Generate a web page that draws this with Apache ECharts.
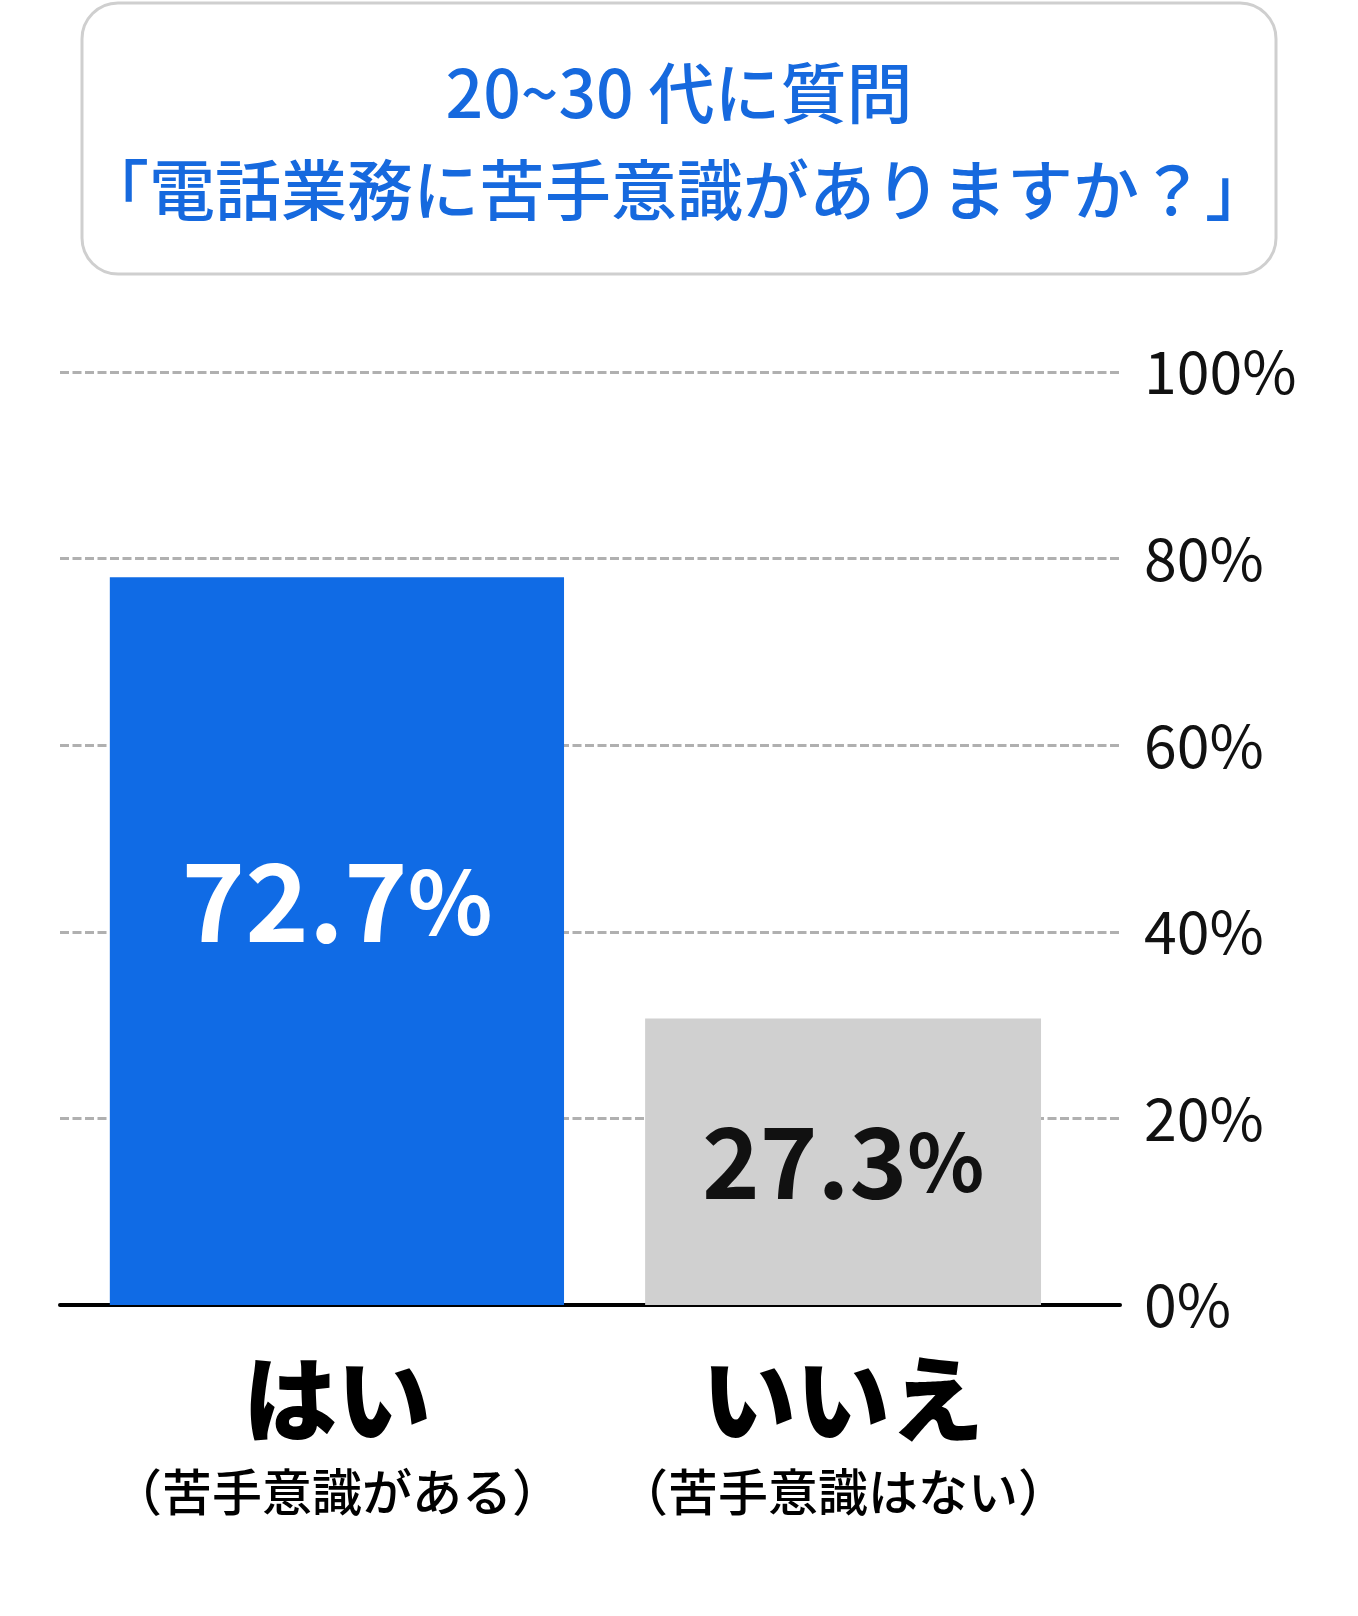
<!DOCTYPE html>
<html>
<head>
<meta charset="utf-8">
<script src="https://cdn.jsdelivr.net/npm/echarts@6/dist/echarts.min.js"></script>
<style>
    html, body { margin: 0; padding: 0; background: #fff; }
    #chart { width: 1358px; height: 1616px; }
</style>
</head>
<body>
<div id="chart"></div>
<script>
    // data
    var categories = ['はい', 'いいえ'];
    var subLabels = ['（苦手意識がある）', '（苦手意識はない）'];
    var barHeights = [78.0, 30.7];          // drawn heights of the bars
    var valueLabels = ['72.7%', '27.3%'];   // printed on the bars
    var yTicks = [0, 20, 40, 60, 80, 100];
    var titleLines = ['20~30 代に質問', '「電話業務に苦手意識がありますか？」'];

    // styles
    var FONT = '"Noto Sans CJK JP", "Noto Sans", sans-serif';
    var barColors = ['#106be5', '#d0d0d0'];
    var labelColors = ['#ffffff', '#111111'];
    var barEdges = [[0.094, 0.951], [0.104, 0.851]];  // bar left/right as part of the band
    var labelPos = [0.555, 0.5];                       // label height inside the bar
    var numSize = [108, 98];
    var pctSize = [88, 80];

    var chart = echarts.init(document.getElementById('chart'));

    function renderItem(params, api) {
        var i = api.value(0);
        var base = api.coord([i, 0]);
        var top = api.coord([i, api.value(1)]);
        var band = api.size([1, 0])[0];
        var x0 = base[0] - band / 2 + band * barEdges[i][0];
        var x1 = base[0] - band / 2 + band * barEdges[i][1];
        var cx = (x0 + x1) / 2;
        var ly = base[1] - (base[1] - top[1]) * labelPos[i];
        var txt = valueLabels[i];
        return {
            type: 'group',
            children: [
                {
                    type: 'rect',
                    shape: { x: x0, y: top[1], width: x1 - x0, height: base[1] - top[1] },
                    style: { fill: barColors[i] }
                },
                {
                    type: 'text',
                    style: {
                        text: '{n|' + txt.slice(0, -1) + '}{p|%}',
                        x: cx, y: ly,
                        align: 'center', verticalAlign: 'middle',
                        rich: {
                            n: { fontSize: numSize[i], fontWeight: 'bold', fontFamily: FONT, fill: labelColors[i], color: labelColors[i] },
                            p: { fontSize: pctSize[i], fontWeight: 'bold', fontFamily: FONT, fill: labelColors[i], color: labelColors[i] }
                        }
                    }
                },
                {
                    type: 'text',
                    style: {
                        text: categories[i], x: cx, y: base[1] + 94,
                        align: 'center', verticalAlign: 'middle',
                        font: '900 94px ' + FONT, fill: '#000'
                    }
                },
                {
                    type: 'text',
                    style: {
                        text: subLabels[i], x: cx, y: base[1] + 187,
                        align: 'center', verticalAlign: 'middle',
                        font: '500 50px ' + FONT, fill: '#000'
                    }
                }
            ]
        };
    }

    chart.setOption({
        animation: false,
        backgroundColor: '#fff',
        grid: { left: 60, right: 238, top: 372, bottom: 311 },
        graphic: [
            {
                type: 'rect',
                shape: { x: 82, y: 3, width: 1194, height: 271, r: 36 },
                style: { fill: '#fff', stroke: '#cfcfcf', lineWidth: 3 }
            },
            {
                type: 'text',
                style: {
                    text: titleLines[0], x: 679, y: 93,
                    align: 'center', verticalAlign: 'middle',
                    font: '500 66px ' + FONT, fill: '#1669de'
                }
            },
            {
                type: 'text',
                style: {
                    text: titleLines[1], x: 677, y: 190,
                    align: 'center', verticalAlign: 'middle',
                    font: '500 66px ' + FONT, fill: '#1669de'
                }
            }
        ],
        xAxis: {
            type: 'category',
            data: categories,
            axisLine: { lineStyle: { color: '#000', width: 4 } },
            axisTick: { show: false },
            axisLabel: { show: false }
        },
        yAxis: {
            type: 'value',
            position: 'right',
            min: yTicks[0],
            max: yTicks[yTicks.length - 1],
            interval: yTicks[1] - yTicks[0],
            axisLine: { show: false },
            axisTick: { show: false },
            axisLabel: {
                formatter: '{value}%',
                margin: 24,
                color: '#111',
                fontSize: 59,
                fontFamily: FONT,
                padding: [14, 0, 0, 0]
            },
            splitLine: {
                lineStyle: { color: '#b0b0b0', width: 3, type: [9, 3.5] }
            }
        },
        series: [{
            type: 'custom',
            renderItem: renderItem,
            clip: false,
            encode: { x: 0, y: 1 },
            data: barHeights.map(function (v, i) { return [i, v]; })
        }]
    });
</script>
</body>
</html>
